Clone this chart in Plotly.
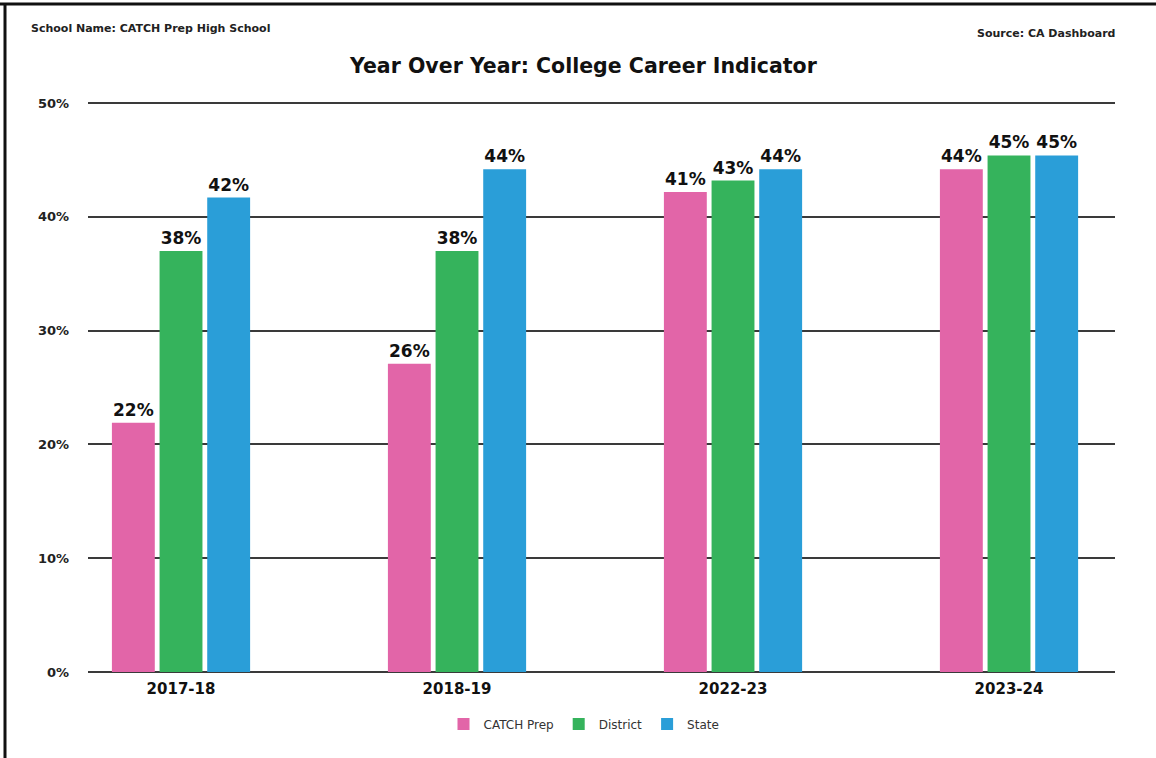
import plotly.graph_objects as go

years = ["2017-18", "2018-19", "2022-23", "2023-24"]
catch_prep = [21.9, 27.1, 42.2, 44.2]
district = [37.0, 37.0, 43.2, 45.4]
state = [41.7, 44.2, 44.2, 45.4]
catch_labels = ["22%", "26%", "41%", "44%"]
district_labels = ["38%", "38%", "43%", "45%"]
state_labels = ["42%", "44%", "44%", "45%"]
y_ticks = [0, 10, 20, 30, 40, 50]
y_tick_labels = ["0%", "10%", "20%", "30%", "40%", "50%"]

FONT = "DejaVu Sans, Verdana, sans-serif"

FW, FH = 1156, 758
# pixel geometry of plot area (page coords)
L, R, T, B = 88, 1115, 102, 672
W, H = R - L, B - T
def px(x):
    return (x - L) / W
def py(y):
    return (B - y) / H

fig = go.Figure()
series = [
    ("CATCH Prep", catch_prep, catch_labels, "#E265A8"),
    ("District", district, district_labels, "#35B35C"),
    ("State", state, state_labels, "#2A9ED8"),
]
for name, vals, labs, col in series:
    fig.add_trace(go.Bar(
        x=years, y=vals, name=name, marker=dict(color=col, line=dict(width=0)),
        text=labs, textposition="outside", cliponaxis=False,
        textfont=dict(family=FONT, size=17, color="#111", weight="bold"),
    ))

fig.update_layout(
    width=FW, height=FH,
    margin=dict(l=L, r=FW - R, t=T, b=FH - B, pad=0),
    paper_bgcolor="white", plot_bgcolor="white",
    barmode="group", bargap=0.482, bargroupgap=0.1,
    font=dict(family=FONT, color="#111"),
    showlegend=True,
    legend=dict(orientation="h", x=px(584), xanchor="center", y=py(724), yanchor="middle",
                font=dict(family=FONT, size=12, color="#333"), itemwidth=30,
                traceorder="normal"),
    xaxis=dict(range=[-0.337, 3.384], showgrid=False, showline=False, zeroline=False,
               ticks="", ticklabelstandoff=6,
               tickfont=dict(family=FONT, size=15, color="#111", weight="bold")),
    yaxis=dict(range=[0, 50.1], tickvals=y_ticks, ticktext=y_tick_labels, showgrid=True,
               gridcolor="#3a3a3a", gridwidth=2, zeroline=True, zerolinecolor="#3a3a3a",
               zerolinewidth=2, showline=False, ticks="", ticklabelstandoff=18,
               tickfont=dict(family=FONT, size=13, color="#222", weight="bold")),
)

fig.add_annotation(text="Year Over Year: College Career Indicator", xref="paper", yref="paper",
                   x=px(583), y=py(66), xanchor="center", yanchor="middle", showarrow=False,
                   font=dict(family=FONT, size=20.5, color="#111", weight="bold"))
fig.add_annotation(text="School Name: CATCH Prep High School", xref="paper", yref="paper",
                   x=px(29), y=py(28), xanchor="left", yanchor="middle", showarrow=False,
                   font=dict(family=FONT, size=11, color="#222", weight="bold"))
fig.add_annotation(text="Source: CA Dashboard", xref="paper", yref="paper",
                   x=px(1117), y=py(33), xanchor="right", yanchor="middle", showarrow=False,
                   font=dict(family=FONT, size=11, color="#222", weight="bold"))

# frame lines (top and left)
fig.add_shape(type="line", xref="paper", yref="paper", x0=px(0), x1=px(FW), y0=py(4), y1=py(4),
              line=dict(color="#111", width=3))
fig.add_shape(type="line", xref="paper", yref="paper", x0=px(5), x1=px(5), y0=py(3), y1=py(FH),
              line=dict(color="#111", width=3))

fig.write_html("out.html", config={"displayModeBar": False},
               post_script="document.body.style.margin='0';document.body.style.overflow='hidden';")
